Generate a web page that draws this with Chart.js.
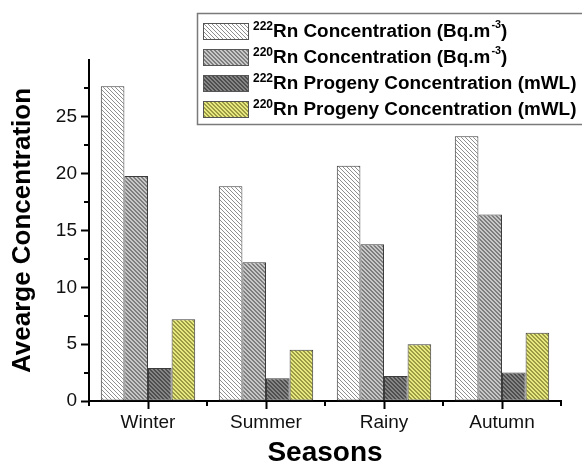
<!DOCTYPE html>
<html><head><meta charset="utf-8">
<script src="https://cdn.jsdelivr.net/npm/chart.js@4"></script>
<style>html,body{margin:0;padding:0;background:#fff}#wrap{width:582px;height:467px;position:relative}canvas{display:block}</style>
</head><body><div id="wrap"><canvas id="c" width="582" height="467"></canvas></div>
<script>
// ---- data ----
const categories = ['Winter', 'Summer', 'Rainy', 'Autumn'];
const rn222Conc = [27.7, 18.9, 20.7, 23.3];
const rn220Conc = [19.8, 12.2, 13.8, 16.4];
const rn222Progeny = [2.9, 2.0, 2.2, 2.5];
const rn220Progeny = [7.2, 4.5, 5.0, 6.0];
const seriesLabels = ['²²²Rn Concentration (Bq.m⁻³)', '²²⁰Rn Concentration (Bq.m⁻³)', '²²²Rn Progeny Concentration (mWL)', '²²⁰Rn Progeny Concentration (mWL)'];
const legendIsotopes = ['222', '220', '222', '220'];
const legendMain = ['Rn Concentration (Bq.m', 'Rn Concentration (Bq.m', 'Rn Progeny Concentration (mWL)', 'Rn Progeny Concentration (mWL)'];
const legendSup = ['-3', '-3', '', ''];
const legendTail = [')', ')', '', ''];
const yMax = 30;
const yStep = 5;
const xTitle = 'Seasons';
const yTitle = 'Avearge Concentration';

// ---- styles ----
function makePattern(bg, fg, w) {
  const c = document.createElement('canvas');
  c.width = 4; c.height = 4;
  const g = c.getContext('2d');
  g.fillStyle = bg; g.fillRect(0, 0, 4, 4);
  g.fillStyle = fg;
  for (let i = 0; i < 4; i++) {
    for (let k = 0; k < w; k++) g.fillRect((i + k) % 4, i, 1, 1);
  }
  return g.createPattern(c, 'repeat');
}
const ctx = document.getElementById('c').getContext('2d');
const fills = [
  makePattern('#ffffff', '#8e8e8e', 1),
  makePattern('#c8c8c8', '#7e7e7e', 2),
  makePattern('#858585', '#4e4e4e', 2),
  makePattern('#e8e880', '#9c9c44', 2)
];
const edge = '#3c3c3c';
const FONT = "'Liberation Sans', Arial, sans-serif";

const minorTicks = {
  id: 'minorTicks',
  afterDraw(chart) {
    const c = chart.ctx, x = chart.scales.x, y = chart.scales.y;
    c.save();
    c.strokeStyle = '#000'; c.lineWidth = 2;
    c.beginPath();
    for (let v = yStep / 2; v < yMax; v += yStep) {
      const py = Math.round(y.getPixelForValue(v));
      c.moveTo(x.left - 5, py); c.lineTo(x.left, py);
    }
    const n = categories.length;
    for (let i = 0; i <= n; i++) {
      let px;
      if (i === 0) px = x.left; else if (i === n) px = x.right;
      else px = (x.getPixelForValue(i - 1) + x.getPixelForValue(i)) / 2;
      px = Math.round(px);
      c.moveTo(px, y.bottom); c.lineTo(px, y.bottom + 5);
    }
    c.stroke();
    c.restore();
  }
};

const customLegend = {
  id: 'customLegend',
  afterDraw(chart) {
    const c = chart.ctx;
    c.save();
    c.fillStyle = '#fff';
    c.fillRect(197, 13, 400, 111);
    c.strokeStyle = '#7a7a7a'; c.lineWidth = 1.5;
    c.strokeRect(197.5, 13.5, 400, 111);
    const sx = 1.08;
    for (let i = 0; i < legendMain.length; i++) {
      const cy = 31 + i * 26;
      c.fillStyle = fills[i];
      c.fillRect(203, cy - 8, 45, 17);
      c.strokeStyle = '#555'; c.lineWidth = 1;
      c.strokeRect(203.5, cy - 7.5, 45, 16);
      c.fillStyle = '#000';
      c.textBaseline = 'alphabetic';
      c.font = 'bold 12px ' + FONT;
      c.fillText(legendIsotopes[i], 253, cy - 1);
      c.save();
      c.translate(273, cy + 6);
      c.scale(sx, 1);
      c.font = 'bold 17.5px ' + FONT;
      c.fillText(legendMain[i], 0, 0);
      let w = c.measureText(legendMain[i]).width;
      if (legendSup[i]) {
        c.font = 'bold 10px ' + FONT;
        c.fillText(legendSup[i], w + 1, -9);
        w += c.measureText(legendSup[i]).width + 1;
        c.font = 'bold 17.5px ' + FONT;
        c.fillText(legendTail[i], w, 0);
      }
      c.restore();
    }
    c.restore();
  }
};

const seriesData = [rn222Conc, rn220Conc, rn222Progeny, rn220Progeny];
new Chart(ctx, {
  type: 'bar',
  data: {
    labels: categories,
    datasets: seriesData.map((d, i) => ({
      label: seriesLabels[i],
      data: d,
      backgroundColor: fills[i],
      borderColor: edge,
      borderWidth: 1,
      borderSkipped: false,
      categoryPercentage: 0.8,
      barPercentage: 1.0
    }))
  },
  options: {
    responsive: false,
    animation: false,
    devicePixelRatio: 1,
    layout: { padding: { top: 60, right: 21, left: 0, bottom: 0 } },
    plugins: { legend: { display: false }, tooltip: { enabled: false } },
    scales: {
      x: {
        offset: true,
        grid: { display: true, drawOnChartArea: false, drawTicks: true, tickLength: 8, tickColor: '#000', tickWidth: 2, offset: false },
        border: { display: true, color: '#000', width: 2 },
        ticks: { color: '#111', font: { family: FONT, size: 19 }, padding: 2, maxRotation: 0 },
        title: { display: true, text: xTitle, color: '#000', font: { family: FONT, size: 28, weight: 'bold', lineHeight: 1 }, padding: 0 },
        afterFit(s) { s.height = 66; }
      },
      y: {
        min: 0, max: yMax,
        grid: { display: true, drawOnChartArea: false, drawTicks: true, tickLength: 8, tickWidth: 2,
          tickColor: (c) => (c.tick && c.tick.value === yMax) ? 'rgba(0,0,0,0)' : '#000' },
        border: { display: true, color: '#000', width: 2 },
        ticks: { stepSize: yStep, color: '#111', font: { family: FONT, size: 19 }, padding: 4,
          callback: (v) => v === yMax ? '' : v },
        title: { display: true, text: yTitle, color: '#000', font: { family: FONT, size: 26, weight: 'bold', lineHeight: 1 }, padding: { top: 10, bottom: 0 } },
        afterFit(s) { s.width = 89; }
      }
    }
  },
  plugins: [minorTicks, customLegend]
});
</script></body></html>
